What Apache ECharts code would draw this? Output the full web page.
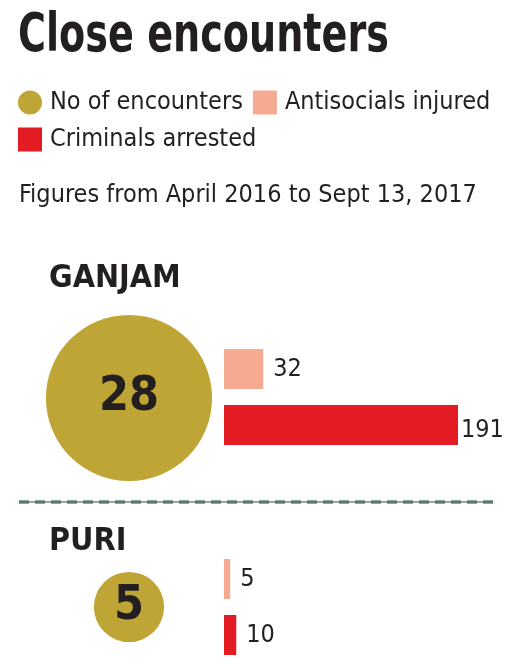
<!DOCTYPE html>
<html lang="en">
<head>
<meta charset="UTF-8">
<title>Close encounters</title>
<script src="https://cdn.jsdelivr.net/npm/echarts@6/dist/echarts.min.js"></script>
<style>
  html, body { margin: 0; padding: 0; background: #fff; }
  #container { width: 530px; height: 668px; }
</style>
</head>
<body>
<div id="container"></div>
<script>
// data
var regions = ['GANJAM', 'PURI'];
var encounters = [28, 5];
var injured = [32, 5];
var arrested = [191, 10];
var barCats = ['Antisocials injured', 'Criminals arrested'];

var FONT = "'DejaVu Sans Condensed', 'Liberation Sans Narrow', sans-serif";
var INK = '#231f20';
var GOLD = '#bfa535';
var PINK = '#f6aa91';
var RED = '#e31b23';

var maxBar = Math.max.apply(null, arrested);
var chart = echarts.init(document.getElementById('container'));

var grids = [], xAxes = [], yAxes = [], series = [], graphics = [];
var barTops = [341, 551];
var nameTops = [263, 526];

regions.forEach(function (r, i) {
  grids.push({ left: 224, top: barTops[i], width: 234, height: 112 });
  xAxes.push({ gridIndex: i, type: 'value', min: 0, max: maxBar, show: false });
  yAxes.push({ gridIndex: i, type: 'category', data: barCats, inverse: true, show: false });
  series.push({
    name: barCats[0], type: 'bar', xAxisIndex: i, yAxisIndex: i,
    data: [injured[i], null], barWidth: 40, itemStyle: { color: PINK },
    label: { show: true, position: 'right', distance: 10, color: INK, fontSize: 25, fontFamily: FONT }
  });
  series.push({
    name: barCats[1], type: 'bar', xAxisIndex: i, yAxisIndex: i, barGap: '-100%',
    data: [null, i === 0 ? { value: arrested[i], label: { distance: 3, offset: [0, 5] } } : arrested[i]],
    barWidth: 40, itemStyle: { color: RED },
    label: { show: true, position: 'right', distance: 10, color: INK, fontSize: 25, fontFamily: FONT }
  });
  graphics.push({
    type: 'text', left: 49, top: nameTops[i],
    style: { text: r, fill: INK, font: 'bold 32px ' + FONT }
  });
});

// circles for number of encounters, area ~ value
grids.push({ left: 29, top: 398, width: 200, height: 209 });
xAxes.push({ gridIndex: 2, type: 'value', min: 0, max: 1, show: false });
yAxes.push({ gridIndex: 2, type: 'category', data: regions, inverse: true, boundaryGap: false, show: false });
series.push({
  name: 'No of encounters', type: 'scatter', xAxisIndex: 2, yAxisIndex: 2,
  data: encounters.map(function (v, i) { return [0.5, i, v]; }),
  symbolSize: function (val) { return 31.4 * Math.sqrt(val[2]); },
  itemStyle: { color: GOLD, opacity: 1 },
  label: {
    show: true, position: 'inside', color: INK, fontSize: 48, fontWeight: 'bold', fontFamily: FONT,
    formatter: function (p) { return p.value[2]; }
  }
});

// title, squeezed to the width of the original condensed face
graphics.push({
  type: 'text', left: 18, top: 11, scaleX: 0.8,
  style: { text: 'Close encounters', fill: INK, font: 'bold 53px ' + FONT }
});
// divider: grey dashes over a thin dark rule
graphics.push({
  type: 'line', shape: { x1: 19, y1: 502, x2: 493, y2: 502 },
  style: { stroke: '#8da3a5', lineWidth: 4, lineDash: [10, 6] }
});
graphics.push({
  type: 'line', shape: { x1: 19, y1: 502, x2: 493, y2: 502 },
  style: { stroke: '#3a4445', lineWidth: 1 }
});

var option = {
  animation: false,
  textStyle: { fontFamily: FONT },
  title: {
    text: 'Figures from April 2016 to Sept 13, 2017', left: 14, top: 178,
    textStyle: { fontSize: 25, fontWeight: 'normal', color: INK, fontFamily: FONT }
  },
  legend: {
    left: 18, top: 89, width: 480, padding: 0,
    itemWidth: 24, itemHeight: 24, itemGap: 10,
    selectedMode: false,
    textStyle: { fontSize: 25, color: INK, fontFamily: FONT, lineHeight: 27, padding: [0, 0, 0, 3] },
    data: [
      { name: 'No of encounters', icon: 'circle' },
      { name: 'Antisocials injured', icon: 'rect' },
      { name: 'Criminals arrested', icon: 'rect' }
    ]
  },
  grid: grids,
  xAxis: xAxes,
  yAxis: yAxes,
  series: series,
  graphic: graphics
};
chart.setOption(option);
</script>
</body>
</html>
